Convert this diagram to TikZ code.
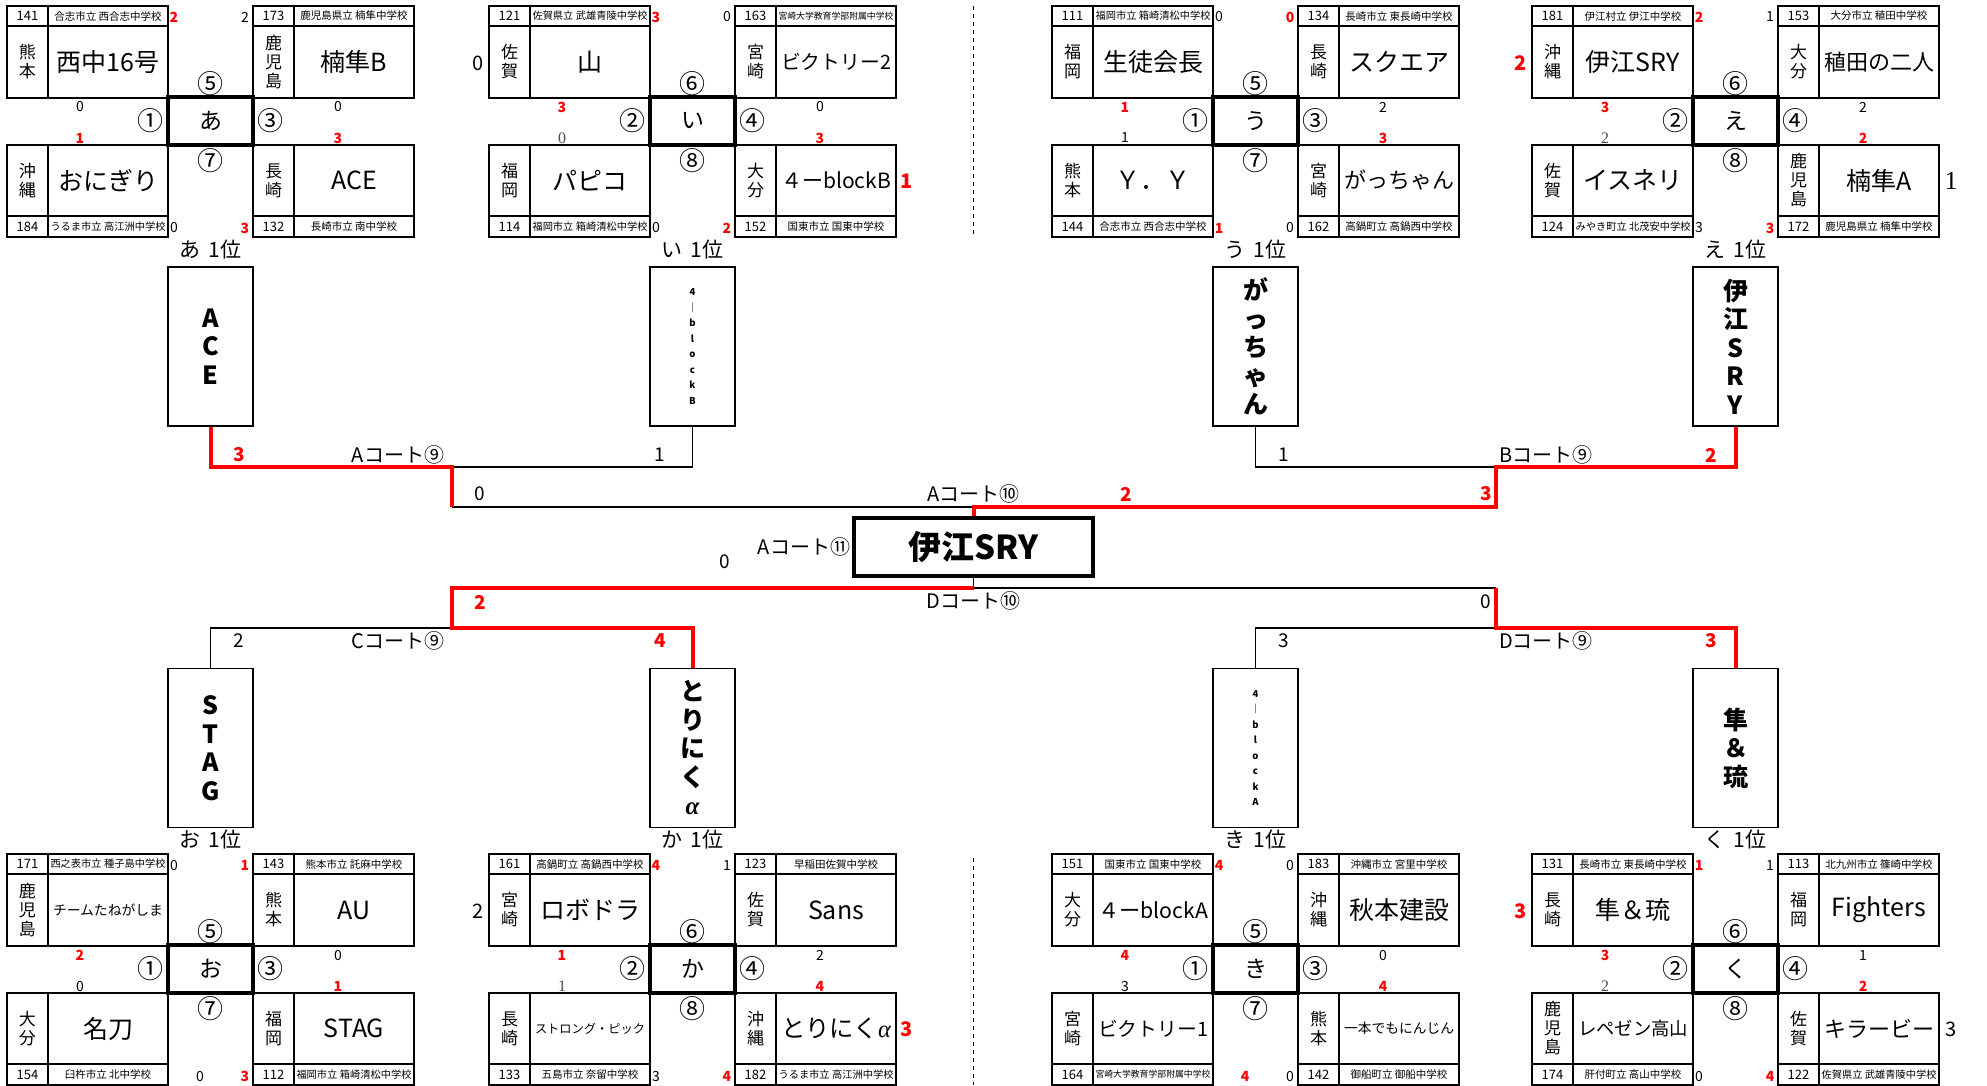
\documentclass[tikz,border=0pt]{standalone}
\usepackage{fontspec}
\setmainfont{Noto Sans CJK JP}
\newfontfamily\serifnum{Liberation Serif}
\usetikzlibrary{positioning}

\newsavebox\fitbox
\newcommand{\fitto}[2]{\sbox\fitbox{#2}\ifdim\wd\fitbox>#1\relax\resizebox{#1}{!}{\usebox\fitbox}\else\usebox\fitbox\fi}

% team with header row on top
\newcommand{\teamhi}[6]{%
  \draw[cell] (#1,#2) rectangle ++(161,92);
  \draw[cell] (#1,#2+20) -- ++(161,0);
  \draw[cell] (#1+41,#2) -- ++(0,92);
  \node[numtxt] at (#1+20.5,#2+10) {#3};
  \node[schtxt] at (#1+101,#2+10) {\fitto{115pt}{#4}};
  \node[preftxt] at (#1+20.5,#2+56) {#5};
  \node[nametxt] at (#1+101,#2+56) {\fitto{110pt}{#6}};
}
% team with footer row below
\newcommand{\teamlo}[6]{%
  \draw[cell] (#1,#2) rectangle ++(161,92);
  \draw[cell] (#1,#2+71) -- ++(161,0);
  \draw[cell] (#1+41,#2) -- ++(0,92);
  \node[preftxt] at (#1+20.5,#2+35.5) {#5};
  \node[nametxt] at (#1+101,#2+35.5) {\fitto{110pt}{#6}};
  \node[numtxt] at (#1+20.5,#2+81.5) {#3};
  \node[schtxt] at (#1+101,#2+81.5) {\fitto{115pt}{#4}};
}
\newcommand{\poolbox}[6]{%
  \node[pool] (#1) at (203.5,115) {#2};
  \node[circ] (#1n) at (203.5,78) {#3};
  \node[circ] (#1w) at (143,115) {#4};
  \node[circ] (#1e) at (263,115) {#5};
  \node[circ] (#1s) at (203.5,155) {#6};
}

\begin{document}
\begin{tikzpicture}[x=1pt,y=-1pt,
    cell/.style={line width=1.3pt},
    numtxt/.style={inner sep=0pt,font=\fontsize{13}{13}\selectfont},
    schtxt/.style={inner sep=0pt,font=\fontsize{10.5}{10.5}\selectfont},
    preftxt/.style={inner sep=0pt,align=center,font=\fontsize{17}{19}\selectfont},
    nametxt/.style={inner sep=0pt,font=\fontsize{25}{25}\selectfont},
    pool/.style={draw,line width=4pt,minimum width=85pt,minimum height=48pt,inner sep=0pt,font=\fontsize{23}{23}\selectfont},
    circ/.style={inner sep=0pt,font=\fontsize{26}{26}\selectfont},
    lbl/.style={inner sep=0pt,font=\fontsize{21}{21}\selectfont},
    sc/.style={inner sep=0pt,font=\fontsize{14}{14}\selectfont},
    rsc/.style={inner sep=0pt,text=red,font=\fontsize{14}{14}\selectfont\bfseries},
    ssc/.style={inner sep=0pt,text=black!70,font=\serifnum\fontsize{16}{16}\selectfont},
    bigsc/.style={inner sep=0pt,font=\fontsize{20}{20}\selectfont},
    bigrsc/.style={inner sep=0pt,text=red,font=\fontsize{20}{20}\selectfont\bfseries},
    bigssc/.style={inner sep=0pt,font=\serifnum\fontsize{26}{26}\selectfont},
    msc/.style={inner sep=0pt,font=\fontsize{19}{19}\selectfont},
    mrsc/.style={inner sep=0pt,text=red,font=\fontsize{19}{19}\selectfont\bfseries},
    court/.style={inner sep=0pt,font=\fontsize{20}{20}\selectfont},
    semi/.style={draw,line width=1.3pt,minimum width=85pt,minimum height=159pt,inner sep=0pt,align=center,font=\fontsize{25}{28.5}\selectfont\bfseries},
    tinysemi/.style={semi,font=\fontsize{9.5}{15.5}\selectfont\bfseries},
    final/.style={draw,line width=3.5pt,minimum width=239pt,minimum height=58pt,inner sep=0pt,font=\fontsize{33}{33}\selectfont\bfseries},
    lose/.style={line width=1.3pt},
    win/.style={line width=4pt,red},
    divider/.style={line width=1pt,dash pattern=on 4pt off 4pt}]
\useasboundingbox (0,0) rectangle (1987,1085);

% あ
\begin{scope}[shift={(7,6)}]
  \teamhi{0}{0}{141}{合志市立 西合志中学校}{熊\\本}{西中16号}
  \teamhi{246}{0}{173}{鹿児島県立 楠隼中学校}{鹿\\児\\島}{楠隼B}
  \teamlo{0}{139}{184}{うるま市立 高江洲中学校}{沖\\縄}{おにぎり}
  \teamlo{246}{139}{132}{長崎市立 南中学校}{長\\崎}{ACE}
  \poolbox{poolA}{あ}{⑤}{①}{③}{⑦}
  \node[rsc] (sA1) at (167,11) {2};
  \node[sc]  (sA2) at (238,11) {2};
  \node[sc]  (sA3) at (73,101) {0};
  \node[rsc] (sA4) at (73,132) {1};
  \node[sc]  (sA5) at (331,101) {0};
  \node[rsc] (sA6) at (331,132) {3};
  \node[sc]  (sA7) at (167,222) {0};
  \node[rsc] (sA8) at (238,222) {3};
  \node[lbl] (rankA) at (203.5,244) {あ\hspace{8pt}1位};
\end{scope}

% い
\begin{scope}[shift={(489,6)}]
  \teamhi{0}{0}{121}{佐賀県立 武雄青陵中学校}{佐\\賀}{山}
  \teamhi{246}{0}{163}{宮崎大学教育学部附属中学校}{宮\\崎}{ビクトリー2}
  \teamlo{0}{139}{114}{福岡市立 箱崎清松中学校}{福\\岡}{パピコ}
  \teamlo{246}{139}{152}{国東市立 国東中学校}{大\\分}{４ーblockB}
  \poolbox{poolB}{い}{⑥}{②}{④}{⑧}
  \node[rsc] (sB1) at (167,11) {3};
  \node[sc]  (sB2) at (238,11) {0};
  \node[rsc] (sB3) at (73,101) {3};
  \node[ssc] (sB4) at (73,132) {0};
  \node[sc]  (sB5) at (331,101) {0};
  \node[rsc] (sB6) at (331,132) {3};
  \node[sc]  (sB7) at (167,222) {0};
  \node[rsc] (sB8) at (238,222) {2};
  \node[bigsc] (sB9) at (-11,57) {0};
  \node[bigrsc] (sB10) at (418,175) {1};
  \node[lbl] (rankB) at (203.5,244) {い\hspace{8pt}1位};
\end{scope}

% う
\begin{scope}[shift={(1052,6)}]
  \teamhi{0}{0}{111}{福岡市立 箱崎清松中学校}{福\\岡}{生徒会長}
  \teamhi{246}{0}{134}{長崎市立 東長崎中学校}{長\\崎}{スクエア}
  \teamlo{0}{139}{144}{合志市立 西合志中学校}{熊\\本}{Ｙ．Ｙ}
  \teamlo{246}{139}{162}{高鍋町立 高鍋西中学校}{宮\\崎}{がっちゃん}
  \poolbox{poolC}{う}{⑤}{①}{③}{⑦}
  \node[sc]  (sC1) at (167,11) {0};
  \node[rsc] (sC2) at (238,11) {0};
  \node[rsc] (sC3) at (73,101) {1};
  \node[sc]  (sC4) at (73,132) {1};
  \node[sc]  (sC5) at (331,101) {2};
  \node[rsc] (sC6) at (331,132) {3};
  \node[rsc] (sC7) at (167,222) {1};
  \node[sc]  (sC8) at (238,222) {0};
  \node[lbl] (rankC) at (203.5,244) {う\hspace{8pt}1位};
\end{scope}

% え
\begin{scope}[shift={(1532,6)}]
  \teamhi{0}{0}{181}{伊江村立 伊江中学校}{沖\\縄}{伊江SRY}
  \teamhi{246}{0}{153}{大分市立 稙田中学校}{大\\分}{稙田の二人}
  \teamlo{0}{139}{124}{みやき町立 北茂安中学校}{佐\\賀}{イスネリ}
  \teamlo{246}{139}{172}{鹿児島県立 楠隼中学校}{鹿\\児\\島}{楠隼A}
  \poolbox{poolD}{え}{⑥}{②}{④}{⑧}
  \node[rsc] (sD1) at (167,11) {2};
  \node[sc]  (sD2) at (238,11) {1};
  \node[rsc] (sD3) at (73,101) {3};
  \node[ssc] (sD4) at (73,132) {2};
  \node[sc]  (sD5) at (331,101) {2};
  \node[rsc] (sD6) at (331,132) {2};
  \node[sc]  (sD7) at (167,222) {3};
  \node[rsc] (sD8) at (238,222) {3};
  \node[bigrsc] (sD9) at (-11,57) {2};
  \node[bigssc] (sD10) at (419,175) {1};
  \node[lbl] (rankD) at (203.5,244) {え\hspace{8pt}1位};
\end{scope}

% お
\begin{scope}[shift={(7,854)}]
  \teamhi{0}{0}{171}{西之表市立 種子島中学校}{鹿\\児\\島}{チームたねがしま}
  \teamhi{246}{0}{143}{熊本市立 託麻中学校}{熊\\本}{AU}
  \teamlo{0}{139}{154}{臼杵市立 北中学校}{大\\分}{名刀}
  \teamlo{246}{139}{112}{福岡市立 箱崎清松中学校}{福\\岡}{STAG}
  \poolbox{poolE}{お}{⑤}{①}{③}{⑦}
  \node[sc]  (sE1) at (167,11) {0};
  \node[rsc] (sE2) at (238,11) {1};
  \node[rsc] (sE3) at (73,101) {2};
  \node[sc]  (sE4) at (73,132) {0};
  \node[sc]  (sE5) at (331,101) {0};
  \node[rsc] (sE6) at (331,132) {1};
  \node[sc]  (sE7) at (193,222) {0};
  \node[rsc] (sE8) at (238,222) {3};
  \node[lbl] (rankE) at (203.5,-14) {お\hspace{8pt}1位};
\end{scope}

% か
\begin{scope}[shift={(489,854)}]
  \teamhi{0}{0}{161}{高鍋町立 高鍋西中学校}{宮\\崎}{ロボドラ}
  \teamhi{246}{0}{123}{早稲田佐賀中学校}{佐\\賀}{Sans}
  \teamlo{0}{139}{133}{五島市立 奈留中学校}{長\\崎}{ストロング・ピック}
  \teamlo{246}{139}{182}{うるま市立 高江洲中学校}{沖\\縄}{とりにく{\serifnum\itshape α}}
  \poolbox{poolF}{か}{⑥}{②}{④}{⑧}
  \node[rsc] (sF1) at (167,11) {4};
  \node[sc]  (sF2) at (238,11) {1};
  \node[rsc] (sF3) at (73,101) {1};
  \node[ssc] (sF4) at (73,132) {1};
  \node[sc]  (sF5) at (331,101) {2};
  \node[rsc] (sF6) at (331,132) {4};
  \node[sc]  (sF7) at (167,222) {3};
  \node[rsc] (sF8) at (238,222) {4};
  \node[bigsc] (sF9) at (-11,57) {2};
  \node[bigrsc] (sF10) at (418,175) {3};
  \node[lbl] (rankF) at (203.5,-14) {か\hspace{8pt}1位};
\end{scope}

% き
\begin{scope}[shift={(1052,854)}]
  \teamhi{0}{0}{151}{国東市立 国東中学校}{大\\分}{４ーblockA}
  \teamhi{246}{0}{183}{沖縄市立 宮里中学校}{沖\\縄}{秋本建設}
  \teamlo{0}{139}{164}{宮崎大学教育学部附属中学校}{宮\\崎}{ビクトリー1}
  \teamlo{246}{139}{142}{御船町立 御船中学校}{熊\\本}{一本でもにんじん}
  \poolbox{poolG}{き}{⑤}{①}{③}{⑦}
  \node[rsc] (sG1) at (167,11) {4};
  \node[sc]  (sG2) at (238,11) {0};
  \node[rsc] (sG3) at (73,101) {4};
  \node[sc]  (sG4) at (73,132) {3};
  \node[sc]  (sG5) at (331,101) {0};
  \node[rsc] (sG6) at (331,132) {4};
  \node[rsc] (sG7) at (193,222) {4};
  \node[sc]  (sG8) at (238,222) {0};
  \node[lbl] (rankG) at (203.5,-14) {き\hspace{8pt}1位};
\end{scope}

% く
\begin{scope}[shift={(1532,854)}]
  \teamhi{0}{0}{131}{長崎市立 東長崎中学校}{長\\崎}{隼＆琉}
  \teamhi{246}{0}{113}{北九州市立 篠崎中学校}{福\\岡}{Fighters}
  \teamlo{0}{139}{174}{肝付町立 高山中学校}{鹿\\児\\島}{レペゼン高山}
  \teamlo{246}{139}{122}{佐賀県立 武雄青陵中学校}{佐\\賀}{キラービー}
  \poolbox{poolH}{く}{⑥}{②}{④}{⑧}
  \node[rsc] (sH1) at (167,11) {1};
  \node[sc]  (sH2) at (238,11) {1};
  \node[rsc] (sH3) at (73,101) {3};
  \node[ssc] (sH4) at (73,132) {2};
  \node[sc]  (sH5) at (331,101) {1};
  \node[rsc] (sH6) at (331,132) {2};
  \node[sc]  (sH7) at (167,222) {0};
  \node[rsc] (sH8) at (238,222) {4};
  \node[bigrsc] (sH9) at (-11,57) {3};
  \node[bigsc] (sH10) at (419,175) {3};
  \node[lbl] (rankH) at (203.5,-14) {く\hspace{8pt}1位};
\end{scope}

\draw[divider] (973.5,6) -- (973.5,237);
\draw[divider] (973.5,858) -- (973.5,1085);

% block winners
\node[semi] (ace) at (210.5,346.5) {A\\C\\E};
\node[tinysemi] (blockb) at (692.5,346.5) {4\\｜\\b\\l\\o\\c\\k\\B};
\node[semi] (gatchan) at (1255.5,346.5) {が\\っ\\ち\\ゃ\\ん};
\node[semi] (iesry) at (1735.5,346.5) {伊\\江\\S\\R\\Y};
\node[semi] (stag) at (210.5,748) {S\\T\\A\\G};
\node[semi] (torinik) at (692.5,748) {と\\り\\に\\く\\{\serifnum\itshape α}};
\node[tinysemi] (blocka) at (1255.5,748) {4\\｜\\b\\l\\o\\c\\k\\A};
\node[semi] (hayabusa) at (1735.5,748) {隼\\＆\\琉};
\node[final] (final) at (973.5,547) {伊江SRY};

\coordinate (qa) at (451.5,467);
\coordinate (qb) at (1495.5,467);
\coordinate (fa) at (451.5,507);
\coordinate (fb) at (1495.5,507);
\coordinate (ftop) at (973.5,507);
\coordinate (fbot) at (973.5,588);
\coordinate (fc) at (451.5,588);
\coordinate (fd) at (1495.5,588);
\coordinate (qc) at (451.5,628);
\coordinate (qd) at (1495.5,628);

\draw[lose] (blockb.south) |- (qa);
\draw[lose] (gatchan.south) |- (qb);
\draw[lose] (fa) -- (ftop);
\draw[lose] (final.south) -- (fbot) -- (fd);
\draw[lose] (stag.north) |- (qc);
\draw[lose] (blocka.north) |- (qd);
\draw[win] (ace.south) |- (qa) -- (fa);
\draw[win] (iesry.south) |- (qb) -- (fb) -- (ftop) -- (final.north);
\draw[win] (fbot) -- (fc) -- (qc) -| (torinik.north);
\draw[win] (fd) -- (qd) -| (hayabusa.north);

\node[court] (crtA9) at (398,455) {Aコート⑨};
\node[court] (crtB9) at (1546,455) {Bコート⑨};
\node[court] (crtA10) at (973.5,494) {Aコート⑩};
\node[court] (crtA11) at (804,547) {Aコート⑪};
\node[court] (crtD10) at (973.5,601) {Dコート⑩};
\node[court] (crtC9) at (398,641) {Cコート⑨};
\node[court] (crtD9) at (1546,641) {Dコート⑨};

\node[mrsc] (m1) at (239,455) {3};
\node[msc]  (m2) at (660,455) {1};
\node[msc]  (m3) at (1284,455) {1};
\node[mrsc] (m4) at (1711,455) {2};
\node[msc]  (m5) at (480,494) {0};
\node[mrsc] (m6) at (1126,494) {2};
\node[mrsc] (m7) at (1486,494) {3};
\node[msc]  (m8) at (725,562) {0};
\node[mrsc] (m9) at (480,602) {2};
\node[msc]  (m10) at (1486,602) {0};
\node[msc]  (m11) at (239,641) {2};
\node[mrsc] (m12) at (660,641) {4};
\node[msc]  (m13) at (1284,641) {3};
\node[mrsc] (m14) at (1711,641) {3};
\end{tikzpicture}
\end{document}
